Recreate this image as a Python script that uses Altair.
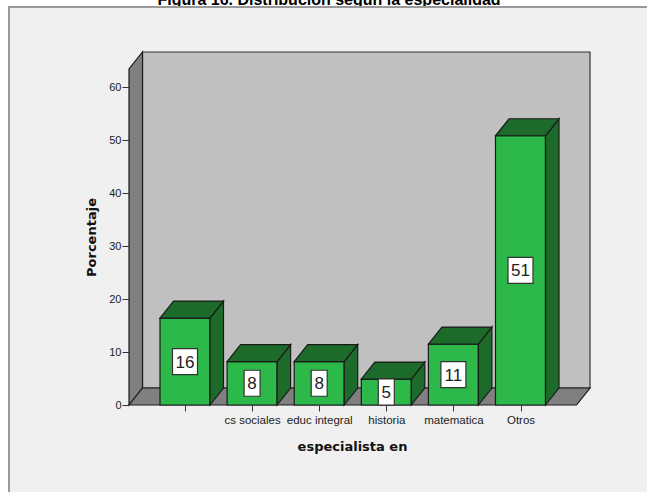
import json
import altair as alt
import pandas as pd

# ---------------- data ----------------
categories = ["", "cs sociales", "educ integral", "historia", "matematica", "Otros"]
values = [16.4, 8.2, 8.2, 4.9, 11.5, 50.8]
labels = ["16", "8", "8", "5", "11", "51"]
y_ticks = [0, 10, 20, 30, 40, 50, 60]
title_text = "Figura 16. Distribución según la especialidad"
x_title = "especialista en"
y_title = "Porcentaje"

# ---------------- geometry (style) ----------------
W, H = 461, 353
PXX = 67.1          # pixels per category step
PXY = 5.3           # pixels per percent
X0 = -56 / PXX
X1 = X0 + W / PXX
Y1 = H / PXY
DX = 13.5 / PXX     # 3D depth, x
DY = 17 / PXY       # 3D depth, y
HW = 25 / PXX       # half bar width

FRONT = "#2db84a"
DARK = "#1d6b2a"
EDGE = "#1a1a1a"

xs = alt.Scale(domain=[X0, X1], nice=False, zero=False)
ys = alt.Scale(domain=[0, Y1], nice=False, zero=False)

label_expr = json.dumps(categories) + "[datum.value]"

x_axis = alt.Axis(values=list(range(len(categories))), labelExpr=label_expr,
                  tickSize=6, tickColor="#333", labelFontSize=11.5,
                  labelFont="Liberation Sans", labelColor="#222", labelPadding=3,
                  grid=False, domain=False, title=x_title, zindex=1,
                  titleFont="DejaVu Sans", titleFontSize=13, titleFontWeight="bold",
                  titleColor="#111", titleX=223, titleY=41, titleAlign="center",
                  titleBaseline="middle")
y_axis = alt.Axis(values=y_ticks, format="d", tickSize=7, tickColor="#333",
                  labelFontSize=11, labelFont="Liberation Sans", labelColor="#222",
                  labelPadding=1, grid=False, domain=False, title=y_title, zindex=1,
                  titleFont="DejaVu Sans", titleFontSize=13, titleFontWeight="bold",
                  titleColor="#111", titleAngle=270, titleX=-38, titleY=185,
                  titleAlign="center", titleBaseline="middle")


def X(field):
    return alt.X(field, scale=xs, axis=x_axis)


def Y(field):
    return alt.Y(field, scale=ys, axis=y_axis)


# ---------------- tables ----------------
one = pd.DataFrame({"a": [0]})

back = pd.DataFrame({"x": [X0 + DX], "x2": [X1], "y": [DY], "y2": [Y1]})
left = pd.DataFrame({"x": [X0, X0 + DX], "y": [0, DY], "y2": [Y1 - DY, Y1]})
floor = pd.DataFrame({"y": [0, DY], "x": [X0, X0 + DX], "x2": [X1 - DX, X1]})

front_rows, side_rows, top_rows, box_rows = [], [], [], []
for i, (c, v, lab) in enumerate(zip(categories, values, labels)):
    front_rows.append({"x": i - HW, "x2": i + HW, "y": 0, "y2": v})
    side_rows.append({"g": i, "x": i + HW, "y": 0, "y2": v})
    side_rows.append({"g": i, "x": i + HW + DX, "y": DY, "y2": v + DY})
    top_rows.append({"g": i, "y": v, "x": i - HW, "x2": i + HW})
    top_rows.append({"g": i, "y": v + DY, "x": i - HW + DX, "x2": i + HW + DX})
    bw = (len(lab) * 4.5 + 3.5) / PXX
    bh = 13 / PXY
    box_rows.append({"xc": i, "yc": v / 2, "x": i - bw, "x2": i + bw,
                     "y": v / 2 - bh, "y2": v / 2 + bh, "lab": lab})
front = pd.DataFrame(front_rows)
side = pd.DataFrame(side_rows)
top = pd.DataFrame(top_rows)
boxes = pd.DataFrame(box_rows)

# ---------------- layers ----------------
title_layer = alt.Chart(one).mark_text(
    text=title_text, font="Liberation Sans", fontSize=16, fontWeight="bold",
    align="center", baseline="alphabetic", color="#000"
).encode(x=alt.value(200), y=alt.value(-47))

frame = alt.Chart(one).mark_rect(fill="#f0f0f0", stroke="#999", strokeWidth=2).encode(
    x=alt.value(-120), x2=alt.value(700), y=alt.value(-45), y2=alt.value(700))

back_layer = alt.Chart(back).mark_rect(fill="#c0c0c0", stroke="#333", strokeWidth=1.2).encode(
    x=X("x:Q"), x2="x2:Q", y=Y("y:Q"), y2="y2:Q")

left_layer = alt.Chart(left).mark_area(orient="vertical", fill="#808080", stroke=EDGE,
                                       strokeWidth=1.2, opacity=1).encode(
    x=X("x:Q"), y=alt.Y("y:Q", scale=ys, axis=y_axis, stack=None), y2="y2:Q")

floor_layer = alt.Chart(floor).mark_area(orient="horizontal", fill="#808080", stroke=EDGE,
                                         strokeWidth=1.2, opacity=1).encode(
    y=Y("y:Q"), x=alt.X("x:Q", scale=xs, axis=x_axis, stack=None), x2="x2:Q")

front_layer = alt.Chart(front).mark_rect(fill=FRONT, stroke=EDGE, strokeWidth=1.2).encode(
    x=X("x:Q"), x2="x2:Q", y=Y("y:Q"), y2="y2:Q")

side_layer = alt.Chart(side).mark_area(orient="vertical", fill=DARK, stroke=EDGE,
                                       strokeWidth=1.2, opacity=1).encode(
    x=X("x:Q"), y=alt.Y("y:Q", scale=ys, axis=y_axis, stack=None), y2="y2:Q",
    detail="g:N")

top_layer = alt.Chart(top).mark_area(orient="horizontal", fill=DARK, stroke=EDGE,
                                     strokeWidth=1.2, opacity=1).encode(
    y=Y("y:Q"), x=alt.X("x:Q", scale=xs, axis=x_axis, stack=None), x2="x2:Q",
    detail="g:N")

box_layer = alt.Chart(boxes).mark_rect(fill="white", stroke="#333", strokeWidth=1.2).encode(
    x=X("x:Q"), x2="x2:Q", y=Y("y:Q"), y2="y2:Q")

text_layer = alt.Chart(boxes).mark_text(font="Liberation Sans", fontSize=17,
                                        baseline="middle", align="center",
                                        color="#222", dy=1).encode(
    x=X("xc:Q"), y=Y("yc:Q"), text="lab:N")

chart = alt.layer(
    title_layer, frame, back_layer, left_layer, floor_layer,
    front_layer, side_layer, top_layer, box_layer, text_layer
).properties(
    width=W, height=H,
    autosize=alt.AutoSizeParams(type="none"),
    padding={"left": 129, "top": 52, "right": 57, "bottom": 87},
    background="white",
).configure_view(stroke=None)

chart.save("out.html", embed_options={"renderer": "svg", "actions": False})
